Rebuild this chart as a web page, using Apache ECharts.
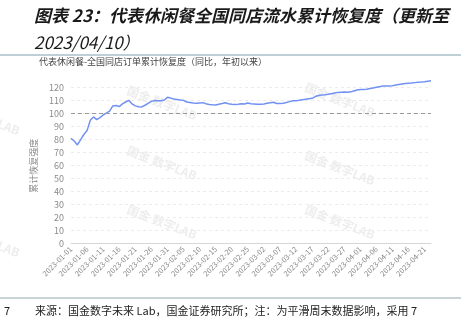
<!DOCTYPE html>
<html><head><meta charset="utf-8">
<script src="https://cdn.jsdelivr.net/npm/echarts@6/dist/echarts.min.js"></script>
<style>html,body{margin:0;padding:0;background:#fff}#c{width:473px;height:331px}</style>
</head><body><div id="c"></div>
<script>
var headerLine1 = '图表 23：代表休闲餐全国同店流水累计恢复度（更新至';
var headerLine2 = '2023/04/10）';
var chartTitle = '代表休闲餐-全国同店订单累计恢复度（同比，年初以来）';
var yAxisName = '累计恢复强度';
var footerText = '来源：国金数字未来 Lab，国金证券研究所；注：为平滑周末数据影响，采用 7';
var pageNo = '7';
var startDate = '2023-01-01';
var dayCount = 113;
var recovery = [
  81, 79, 76, 80, 84, 87, 95, 97.5, 95.5, 97,
  99, 100.5, 102, 106, 106.3, 105.5, 107.5, 109, 110.3, 107.5,
  106, 105.3, 105.2, 106.5, 108, 109.5, 110.2, 110, 110, 110.5,
  112.6, 112, 111.3, 111, 110.6, 110.3, 109, 108.6, 108.2, 108,
  108.3, 108.5, 107.6, 107.1, 106.8, 106.7, 107.3, 107.8, 108.4, 107.7,
  107.2, 107.1, 107.2, 107.6, 107.4, 108.2, 107.7, 107.5, 107.3, 107.2,
  107.5, 108, 108.4, 108.8, 107.8, 107.9, 108.1, 108.6, 109.3, 110,
  110, 110.3, 110.8, 111.2, 111.5, 111.8, 113.2, 114, 114.4, 114.6,
  114.9, 115.4, 115.9, 116.4, 116.5, 116.6, 116.5, 116.8, 117.5, 118.2,
  118.7, 118.7, 118.8, 119.3, 119.8, 120.3, 120.8, 121.3, 121.4, 121.4,
  121.5, 122, 122.4, 122.8, 123.2, 123.4, 123.6, 123.9, 124.2, 124.3,
  124.6, 125, 125.3
];
var refLevel = 100;

var dates = [];
(function(){
  var d = new Date(startDate + 'T00:00:00Z');
  for (var i = 0; i < dayCount; i++) {
    var t = new Date(d.getTime() + i * 86400000);
    var m = String(t.getUTCMonth() + 1).padStart(2, '0');
    var dd = String(t.getUTCDate()).padStart(2, '0');
    dates.push(t.getUTCFullYear() + '-' + m + '-' + dd);
  }
})();

var cjk = '"Noto Sans CJK SC", "Noto Sans", sans-serif';
var chart = echarts.init(document.getElementById('c'));
var wm = [];
[[162,103],[162,163],[162,222],[340,100],[340,168],[340,222],[-15,118],[-15,240]].forEach(function(p){
  wm.push({type:'text', x:p[0], y:p[1], rotation:-0.37, z:-1,
    style:{text:'国金 数字LAB', fill:'rgba(190,190,190,0.28)', font:'bold 12px ' + cjk, textAlign:'center', textVerticalAlign:'middle'}});
});
chart.setOption({
  animation: false,
  textStyle: {fontFamily: cjk},
  grid: {left: 71, right: 42, top: 87.7, bottom: 87.3},
  xAxis: {
    type: 'category', data: dates, boundaryGap: false,
    axisLine: {lineStyle: {color: '#d6d6d6'}},
    axisTick: {show: false},
    axisLabel: {interval: 4, rotate: 45, fontSize: 7.5, color: '#8a8a8a', margin: 4}
  },
  yAxis: {
    type: 'value', min: 0, max: 120, interval: 10,
    name: yAxisName, nameLocation: 'middle', nameGap: 24,
    nameTextStyle: {fontSize: 9, color: '#8a8a8a'},
    axisLine: {show: false}, axisTick: {show: false},
    axisLabel: {fontSize: 9, color: '#8a8a8a', margin: 7},
    splitLine: {lineStyle: {type: [3, 3], color: '#ececec'}}
  },
  series: [{
    type: 'line', data: recovery, clip: false, showSymbol: false,
    lineStyle: {color: '#7192f2', width: 1.5},
    itemStyle: {color: '#7192f2'},
    markLine: {
      silent: true, symbol: 'none', label: {show: false},
      lineStyle: {type: [4, 3], color: '#9a9a9a', width: 1},
      data: [{yAxis: refLevel}]
    }
  }],
  graphic: wm.concat([
    {type:'text', left: 34, top: 7, style:{text: headerLine1, fill:'#1a1a1a', font:'italic bold 17px ' + cjk}},
    {type:'text', left: 34, top: 34, style:{text: headerLine2, fill:'#1a1a1a', font:'italic 17px ' + cjk}},
    {type:'line', shape:{x1:0, y1:55, x2:461, y2:55}, style:{stroke:'#7f9fb1', lineWidth:1.2}},
    {type:'text', left: 39, top: 57, style:{text: chartTitle, fill:'#444', font:'9px ' + cjk}},
    {type:'line', shape:{x1:0, y1:298, x2:461, y2:298}, style:{stroke:'#93a9b0', lineWidth:1}},
    {type:'text', left: 4, top: 305, style:{text: pageNo, fill:'#222', font:'11px ' + cjk}},
    {type:'text', left: 35, top: 305, style:{text: footerText, fill:'#222', font:'11px ' + cjk}}
  ])
});
</script></body></html>
